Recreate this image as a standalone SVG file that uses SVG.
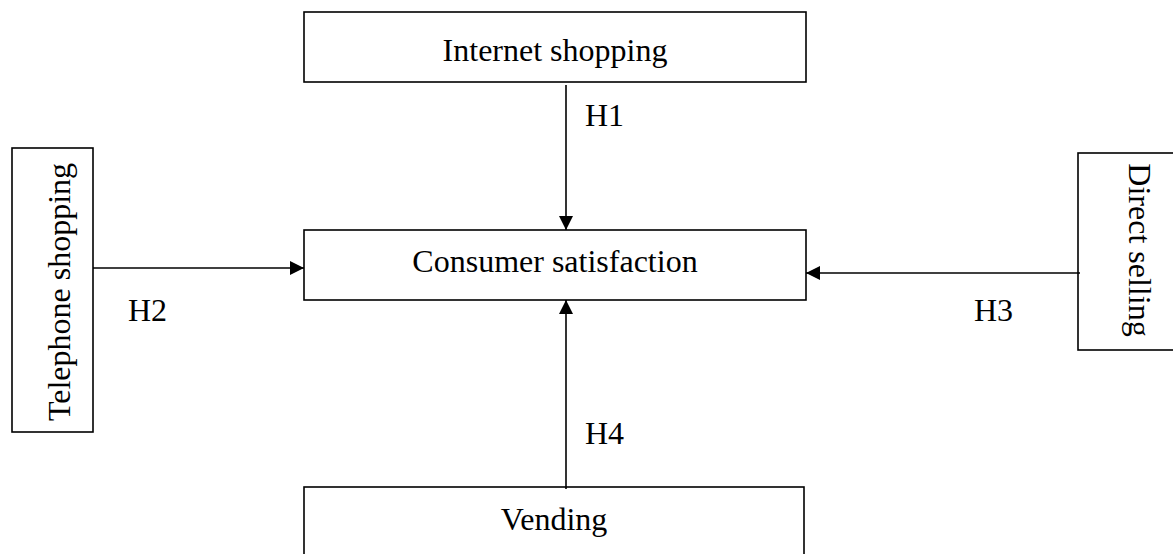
<svg xmlns="http://www.w3.org/2000/svg" width="1173" height="554" viewBox="0 0 1173 554">
<style>
.box{fill:#fff;stroke:#000;stroke-width:1.6}
.lbl{font-family:"Liberation Serif","Times New Roman",serif;font-size:32px;fill:#000}
.mid{text-anchor:middle}
.edge{stroke:#000;stroke-width:1.6;fill:none;marker-end:url(#ah)}
</style>
<defs>
<marker id="ah" viewBox="0 0 14 14" refX="14" refY="7" markerWidth="14" markerHeight="14" markerUnits="userSpaceOnUse" orient="auto">
<path d="M0,0 L14,7 L0,14 z" fill="#000"/>
</marker>
</defs>
<rect width="1173" height="554" fill="#fff"/>
<g id="internet">
<rect class="box" x="304" y="12" width="502" height="70"/>
<text class="lbl mid" x="555" y="61">Internet shopping</text>
</g>
<g id="consumer">
<rect class="box" x="304" y="230" width="502" height="70"/>
<text class="lbl mid" x="555" y="272">Consumer satisfaction</text>
</g>
<g id="telephone">
<rect class="box" x="12" y="148" width="81" height="284"/>
<text class="lbl mid" transform="translate(70,292) rotate(-90)" x="0" y="0">Telephone shopping</text>
</g>
<g id="direct">
<rect class="box" x="1078" y="153" width="100" height="197"/>
<text class="lbl mid" transform="translate(1129,250) rotate(90)" x="0" y="0">Direct selling</text>
</g>
<g id="vending">
<rect class="box" x="304" y="487" width="500" height="80"/>
<text class="lbl mid" x="554" y="530">Vending</text>
</g>
<g id="connectors">
<line class="edge" x1="566" y1="85" x2="566" y2="230"/>
<line class="edge" x1="93" y1="268" x2="304" y2="268"/>
<line class="edge" x1="1080" y1="273" x2="806" y2="273"/>
<line class="edge" x1="566" y1="489" x2="566" y2="300"/>
<text class="lbl" x="585" y="126">H1</text>
<text class="lbl" x="128" y="321">H2</text>
<text class="lbl" x="974" y="321">H3</text>
<text class="lbl" x="585" y="444">H4</text>
</g>
</svg>
